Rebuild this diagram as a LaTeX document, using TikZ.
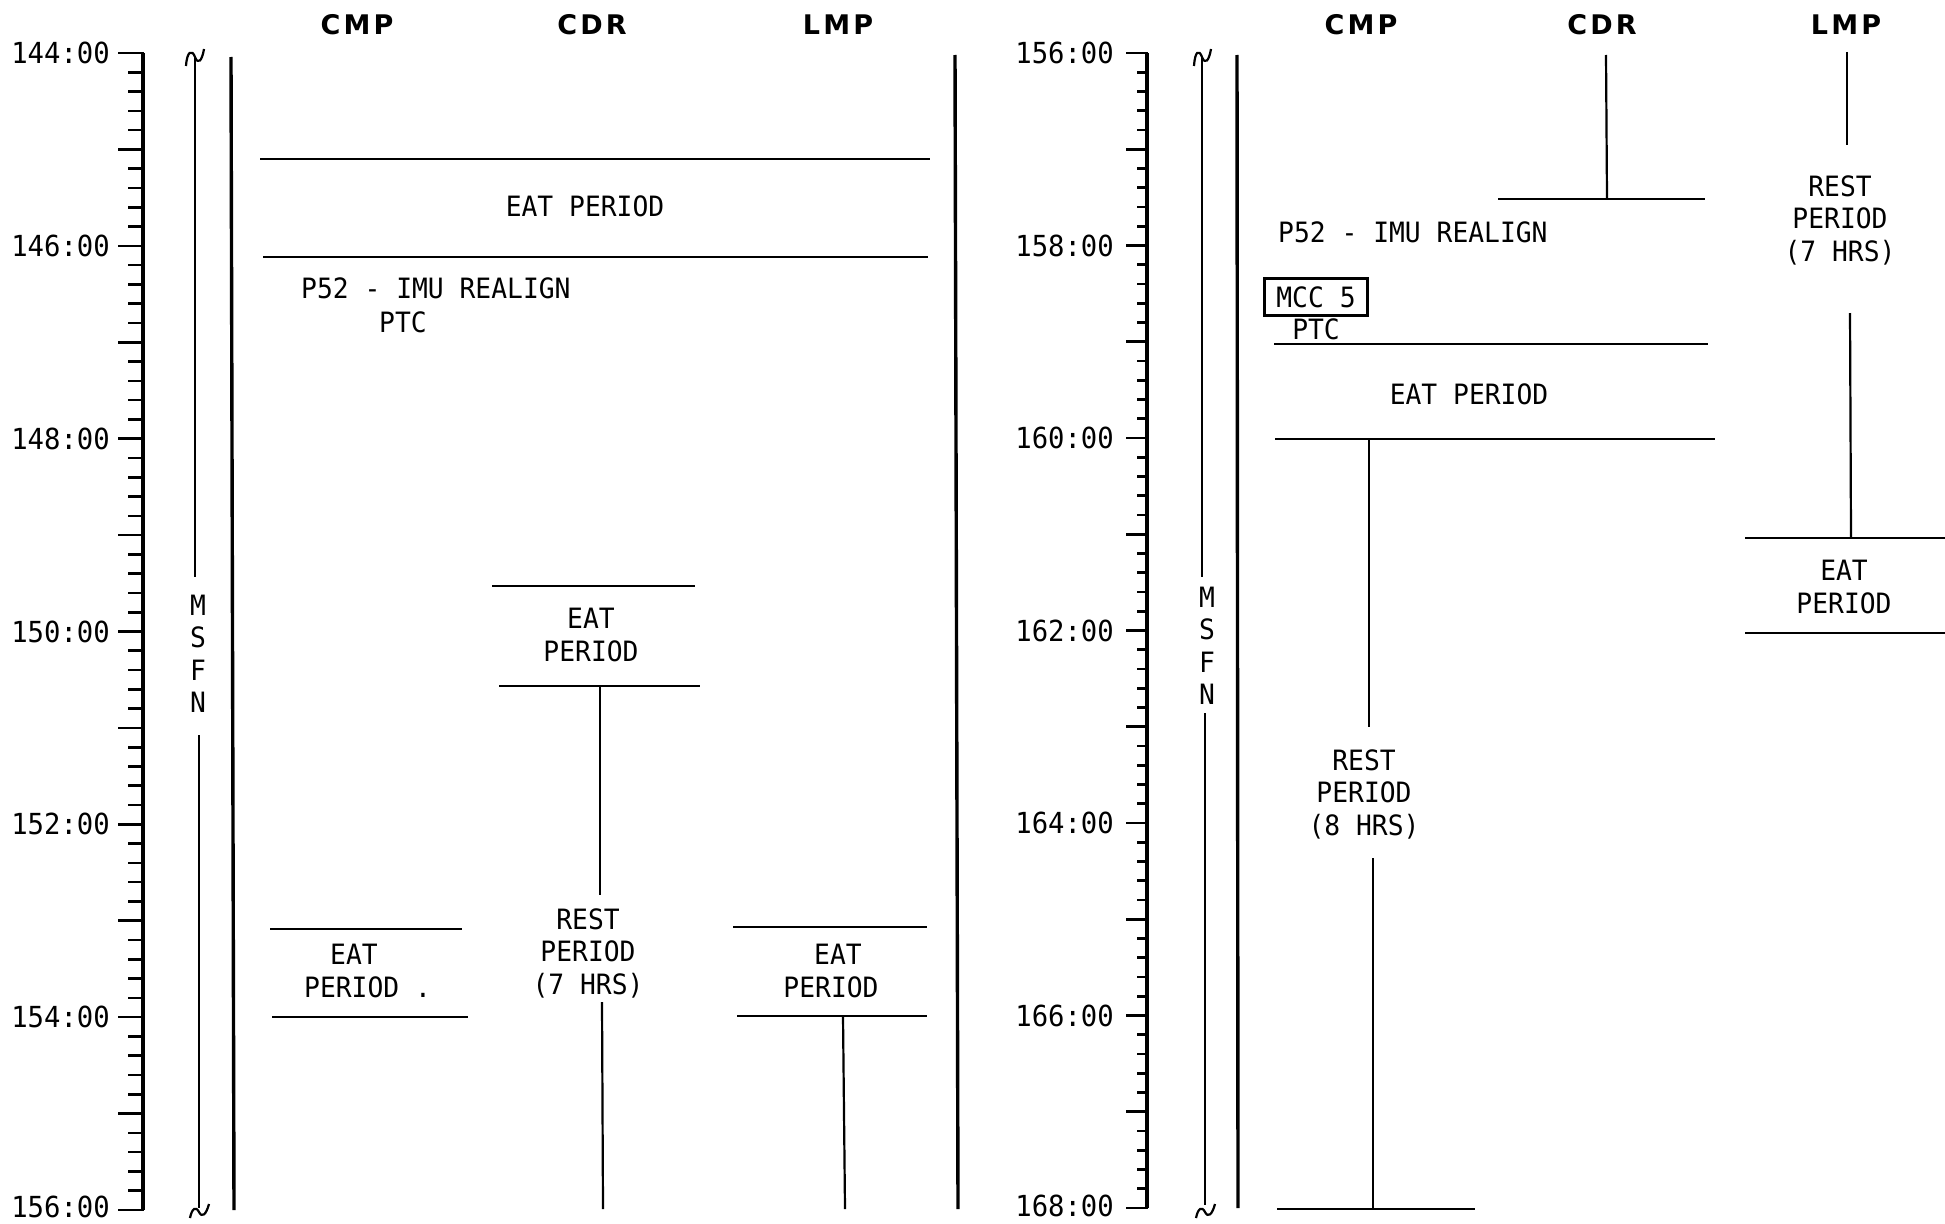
\documentclass[tikz,border=0pt]{standalone}
\usepackage{fontspec}
\newfontfamily\typew[FakeStretch=0.94]{DejaVu Sans Mono}
\newfontfamily\headf[LetterSpace=12]{DejaVu Sans}
\begin{document}
\begin{tikzpicture}[x=1pt,y=-1pt,
  lab/.style={font=\typew\fontsize{28}{32.5}\selectfont, inner sep=0pt, align=center},
  axl/.style={font=\typew\fontsize{29}{32}\selectfont, inner sep=0pt, anchor=east},
  hdr/.style={font=\headf\bfseries\fontsize{27}{30}\selectfont, inner sep=0pt},
  ln/.style={line width=2.2pt},
  tick/.style={line width=2.6pt},
  axisln/.style={line width=3.4pt},
  boxed/.style={draw, line width=2.2pt, inner sep=0pt, minimum width=103pt, minimum height=37pt}
]
\useasboundingbox[fill=white] (0,0) rectangle (1945,1223);

% ---------- headers ----------
\node[hdr] (hCMPa) at (357,25) {CMP};
\node[hdr] (hCDRa) at (592,25) {CDR};
\node[hdr] (hLMPa) at (838,25) {LMP};
\node[hdr] (hCMPb) at (1361,25) {CMP};
\node[hdr] (hCDRb) at (1602,25) {CDR};
\node[hdr] (hLMPb) at (1846,25) {LMP};

% ---------- left time axis ----------
\draw[axisln] (143,53) -- (143,1210);
\foreach \i in {0,...,60}{
  \pgfmathsetmacro{\yy}{53+\i*19.2833}
  \pgfmathtruncatemacro{\mm}{mod(\i,5)}
  \ifnum\mm=0 \draw[tick] (118,\yy) -- (144,\yy); \else \draw[tick] (128,\yy) -- (144,\yy); \fi
}
\foreach \h/\t in {0/144:00,2/146:00,4/148:00,6/150:00,8/152:00,10/154:00}{
  \node[axl] (la\h) at (110,{53+\h*96.417}) {\t};
}
\node[axl] (la12) at (110,1207) {156:00};

% ---------- right time axis ----------
\draw[axisln] (1147,53) -- (1147,1208);
\foreach \i in {0,...,60}{
  \pgfmathsetmacro{\yy}{53+\i*19.25}
  \pgfmathtruncatemacro{\mm}{mod(\i,5)}
  \ifnum\mm=0 \draw[tick] (1126,\yy) -- (1148,\yy); \else \draw[tick] (1137,\yy) -- (1148,\yy); \fi
}
\foreach \h/\t in {0/156:00,2/158:00,4/160:00,6/162:00,8/164:00,10/166:00}{
  \node[axl] (lb\h) at (1114,{53+\h*96.25}) {\t};
}
\node[axl] (lb12) at (1114,1206) {168:00};

% ---------- MSFN lines ----------
\node[lab] (msfnA) at (198,654) {M\\S\\F\\N};
\draw[ln] (195,58) -- (195,577);
\draw[ln] (199,735) -- (199,1208);
\draw[line width=2.2pt] (186,66) .. controls (187,51) and (192,49) .. (195,57) .. controls (198,65) and (202,61) .. (204,49);
\draw[line width=2.2pt] (190,1218) .. controls (192,1208) and (196,1206) .. (199,1212) .. controls (202,1218) and (206,1215) .. (209,1204);

\node[lab] (msfnB) at (1207,646) {M\\S\\F\\N};
\draw[ln] (1202,58) -- (1202,577);
\draw[ln] (1205,713) -- (1205,1205);
\draw[line width=2.2pt] (1194,66) .. controls (1195,51) and (1199,49) .. (1202,57) .. controls (1205,65) and (1209,61) .. (1211,49);
\draw[line width=2.2pt] (1196,1218) .. controls (1198,1208) and (1202,1206) .. (1205,1212) .. controls (1208,1218) and (1212,1215) .. (1215,1204);

% ---------- panel boundary lines ----------
\draw[axisln] (231,57) -- (234,1210);
\draw[axisln] (955,55) -- (958,1209);
\draw[axisln] (1237,55) -- (1238,1208);

% ---------- left panel ----------
\draw[ln] (260,159) -- (930,159);
\node[lab] (eat1) at (585,206) {EAT PERIOD};
\draw[ln] (263,257) -- (928,257);
\node[lab, anchor=west] (p52a) at (301,288) {P52 - IMU REALIGN};
\node[lab] (ptca) at (403,322) {PTC};

% CDR eat period
\draw[ln] (492,586) -- (695,586);
\node[lab] (eatcdr) at (591,635) {EAT\\PERIOD};
\draw[ln] (499,686) -- (700,686);
\coordinate (cdrA) at (600,686);
\coordinate (cdrB) at (600,895);
\draw[ln] (cdrA) -- (cdrB);
\node[lab] (restcdr) at (588,953) {REST\\PERIOD\\(7 HRS)};
\coordinate (cdrC) at (602,1002);
\coordinate (cdrD) at (603,1209);
\draw[ln] (cdrC) -- (cdrD);

% CMP eat period
\draw[ln] (270,929) -- (462,929);
\node[lab] (eatcmpA) at (354,954) {EAT};
\node[lab, anchor=west] (eatcmpB) at (304,987) {PERIOD .};
\draw[ln] (272,1017) -- (468,1017);

% LMP eat period
\draw[ln] (733,927) -- (927,927);
\node[lab] (eatlmpA) at (838,954) {EAT};
\node[lab] (eatlmpB) at (831,987) {PERIOD};
\draw[ln] (737,1016) -- (927,1016);
\coordinate (lmpA) at (843,1016);
\coordinate (lmpB) at (845,1209);
\draw[ln] (lmpA) -- (lmpB);

% ---------- right panel ----------
% CDR
\coordinate (cdrE) at (1606,55);
\coordinate (cdrF) at (1607,199);
\draw[ln] (cdrE) -- (cdrF);
\draw[ln] (1498,199) -- (1705,199);

\node[lab, anchor=west] (p52b) at (1278,232) {P52 - IMU REALIGN};
\node[lab, boxed] (mcc) at (1316,297) {MCC 5};
\node[lab] (ptcb) at (1316,329) {PTC};
\draw[ln] (1274,344) -- (1708,344);
\node[lab] (eat2) at (1469,394) {EAT PERIOD};
\draw[ln] (1275,439) -- (1715,439);

% CMP rest
\coordinate (cmpA) at (1369,439);
\coordinate (cmpB) at (1369,727);
\draw[ln] (cmpA) -- (cmpB);
\node[lab] (restcmp) at (1364,794) {REST\\PERIOD\\(8 HRS)};
\coordinate (cmpC) at (1373,858);
\coordinate (cmpD) at (1373,1208);
\draw[ln] (cmpC) -- (cmpD);
\draw[ln] (1277,1209) -- (1475,1209);

% LMP rest
\coordinate (lmpC) at (1847,52);
\coordinate (lmpD) at (1847,145);
\draw[ln] (lmpC) -- (lmpD);
\node[lab] (restlmp) at (1840,220) {REST\\PERIOD\\(7 HRS)};
\coordinate (lmpE) at (1850,313);
\coordinate (lmpF) at (1851,538);
\draw[ln] (lmpE) -- (lmpF);
\draw[ln] (1745,538) -- (1945,538);
\node[lab] (eatlmp2) at (1844,587) {EAT\\PERIOD};
\draw[ln] (1745,633) -- (1945,633);
\end{tikzpicture}
\end{document}
